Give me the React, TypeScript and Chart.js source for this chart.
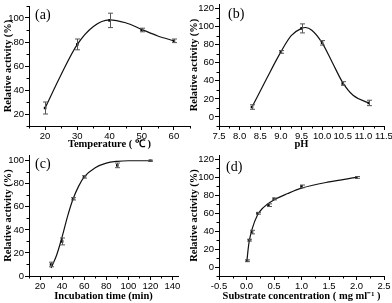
import React, { useEffect, useRef } from "react";
import { Chart, registerables } from "chart.js";

Chart.register(...registerables);

// ---------- (a) Temperature ----------
const tempX = [20, 30, 40, 50, 60];
const tempY = [25, 78, 98, 90, 81];
const tempErr = [5, 4.5, 6, 1.5, 1.5];
const tempCurveX = [20, 25, 30, 35, 40, 45, 50, 55, 60];
const tempCurveY = [25, 53, 78, 93, 98.5, 96, 90.5, 85, 81];
const tempXTicks = [20, 30, 40, 50, 60];
const tempYTicks = [20, 40, 60, 80, 100];

// ---------- (b) pH ----------
const phX = [8.3, 9.0, 9.5, 10.0, 10.5, 11.13];
const phY = [11, 72, 98, 82, 37, 15.5];
const phErr = [2.5, 1.5, 5, 2.5, 2, 3];
const phCurveX = [8.3, 8.65, 9.0, 9.25, 9.5, 9.6, 9.75, 10.0, 10.25, 10.5, 10.75, 11.13];
const phCurveY = [11, 42, 72, 90, 98, 99, 96, 82, 60, 38, 24, 15.5];
const phXTicks = [7.5, 8, 8.5, 9, 9.5, 10, 10.5, 11, 11.5];
const phYTicks = [0, 20, 40, 60, 80, 100, 120];

// ---------- (c) Incubation time ----------
const timeX = [30, 40, 50, 60, 90, 120];
const timeY = [10, 30, 67, 86, 96, 100];
const timeErr = [2, 3, 1, 1, 2, 0.5];
const timeCurveX = [30, 35, 40, 45, 50, 55, 60, 70, 80, 90, 100, 120];
const timeCurveY = [7, 18, 34, 52, 67, 78, 86, 94, 98, 99.5, 100, 100];
const timeXTicks = [20, 40, 60, 80, 100, 120, 140];
const timeYTicks = [0, 20, 40, 60, 80, 100];

// ---------- (d) Substrate concentration ----------
const subX = [0.01, 0.05, 0.1, 0.2, 0.4, 0.5, 1.0, 2.0];
const subY = [7, 30, 39, 60, 69, 76, 90, 100];
const subErr = [1, 1, 2, 1, 1.5, 1, 1.5, 1];
const subCurveX = [0.01, 0.03, 0.05, 0.1, 0.2, 0.3, 0.5, 0.75, 1.0, 1.5, 2.0];
const subCurveY = [8, 20, 29, 42, 58, 66, 75, 82, 88, 95, 100];
const subXTicks = [-0.5, 0, 0.5, 1, 1.5, 2, 2.5];
const subYTicks = [0, 20, 40, 60, 80, 100, 120];

const yTitle = "Relative activity (%)";

type Box = { left: number; top: number; right: number; bottom: number };
type PanelCfg = {
  x: number; y: number; w: number; h: number; box: Box;
  letter: string; letterX: number; letterY: number;
  xTitle: string;
  xMin: number; xMax: number; xTicks: number[]; xMinor: number; xDec: number;
  yMin: number; yMax: number; yTicks: number[]; yMinor: number;
  px: number[]; py: number[]; pe: number[];
  cx: number[]; cy: number[];
};

const SERIF = "'Liberation Serif', 'Times New Roman', serif";
const SANS = "'Liberation Sans', Arial, sans-serif";

const panels: PanelCfg[] = [
  {
    x: 0, y: 0, w: 196, h: 151, box: { left: 29, top: 6, right: 190, bottom: 126 },
    letter: "(a)", letterX: 35, letterY: 15, xTitle: "Temperature ( \u2103 )",
    xMin: 15, xMax: 65, xTicks: tempXTicks, xMinor: 5, xDec: 0,
    yMin: 10, yMax: 110, yTicks: tempYTicks, yMinor: 10,
    px: tempX, py: tempY, pe: tempErr, cx: tempCurveX, cy: tempCurveY,
  },
  {
    x: 186, y: 0, w: 206, h: 151, box: { left: 33, top: 3, right: 198, bottom: 126 },
    letter: "(b)", letterX: 42, letterY: 14, xTitle: "pH",
    xMin: 7.5, xMax: 11.5, xTicks: phXTicks, xMinor: 0.25, xDec: 1,
    yMin: -10, yMax: 125, yTicks: phYTicks, yMinor: 10,
    px: phX, py: phY, pe: phErr, cx: phCurveX, cy: phCurveY,
  },
  {
    x: 0, y: 151, w: 196, h: 152, box: { left: 29, top: 4, right: 178, bottom: 125 },
    letter: "(c)", letterX: 35, letterY: 13, xTitle: "Incubation time (min)",
    xMin: 10, xMax: 145, xTicks: timeXTicks, xMinor: 10, xDec: 0,
    yMin: 0, yMax: 105, yTicks: timeYTicks, yMinor: 10,
    px: timeX, py: timeY, pe: timeErr, cx: timeCurveX, cy: timeCurveY,
  },
  {
    x: 186, y: 151, w: 206, h: 152, box: { left: 33, top: 4, right: 198, bottom: 125 },
    letter: "(d)", letterX: 40, letterY: 16, xTitle: "Substrate concentration ( mg ml\u207B\u00B9 )",
    xMin: -0.5, xMax: 2.5, xTicks: subXTicks, xMinor: 0.25, xDec: 1,
    yMin: -10, yMax: 125, yTicks: subYTicks, yMinor: 10,
    px: subX, py: subY, pe: subErr, cx: subCurveX, cy: subCurveY,
  },
];

function PanelChart({ cfg }: { cfg: PanelCfg }) {
  const ref = useRef<HTMLCanvasElement>(null);
  useEffect(() => {
    const canvas = ref.current!;
    const { box, w, h } = cfg;

    const extras = {
      id: "extras" + cfg.letter,
      afterDatasetsDraw(chart: any) {
        const ctx = chart.ctx as CanvasRenderingContext2D;
        const xs = chart.scales.x;
        const ys = chart.scales.y;
        const area = chart.chartArea;
        ctx.save();
        // error bars
        ctx.strokeStyle = "#555";
        ctx.lineWidth = 1;
        cfg.px.forEach((xv, i) => {
          const e = cfg.pe[i];
          if (!e) return;
          const xp = Math.round(xs.getPixelForValue(xv)) + 0.5;
          const y1 = ys.getPixelForValue(cfg.py[i] + e);
          const y2 = ys.getPixelForValue(cfg.py[i] - e);
          ctx.beginPath();
          ctx.moveTo(xp, y1); ctx.lineTo(xp, y2);
          ctx.moveTo(xp - 2.5, y1); ctx.lineTo(xp + 2.5, y1);
          ctx.moveTo(xp - 2.5, y2); ctx.lineTo(xp + 2.5, y2);
          ctx.stroke();
        });
        // minor ticks
        ctx.strokeStyle = "#000";
        const isMajor = (v: number, majors: number[], step: number) =>
          majors.some((m) => Math.abs(m - v) < step / 100);
        const sx = Math.ceil(cfg.xMin / cfg.xMinor - 1e-9);
        const ex = Math.floor(cfg.xMax / cfg.xMinor + 1e-9);
        for (let i = sx; i <= ex; i++) {
          const v = i * cfg.xMinor;
          if (isMajor(v, cfg.xTicks, cfg.xMinor)) continue;
          const p = Math.round(xs.getPixelForValue(v)) + 0.5;
          ctx.beginPath();
          ctx.moveTo(p, area.bottom);
          ctx.lineTo(p, area.bottom + 2.5);
          ctx.stroke();
        }
        const sy = Math.ceil(cfg.yMin / cfg.yMinor - 1e-9);
        const ey = Math.floor(cfg.yMax / cfg.yMinor + 1e-9);
        for (let i = sy; i <= ey; i++) {
          const v = i * cfg.yMinor;
          if (isMajor(v, cfg.yTicks, cfg.yMinor)) continue;
          const p = Math.round(ys.getPixelForValue(v)) + 0.5;
          ctx.beginPath();
          ctx.moveTo(area.left, p);
          ctx.lineTo(area.left - 2.5, p);
          ctx.stroke();
        }
        // panel letter
        ctx.fillStyle = "#000";
        ctx.font = "14px " + SERIF;
        ctx.textAlign = "left";
        ctx.textBaseline = "middle";
        ctx.fillText(cfg.letter, cfg.letterX, cfg.letterY);
        ctx.restore();
      },
    };

    const chart = new Chart(canvas, {
      type: "scatter",
      data: {
        datasets: [
          {
            data: cfg.cx.map((x, i) => ({ x, y: cfg.cy[i] })),
            showLine: true,
            borderColor: "#111",
            borderWidth: 1.2,
            pointRadius: 0,
            cubicInterpolationMode: "monotone",
            fill: false,
          } as any,
          {
            data: cfg.px.map((x, i) => ({ x, y: cfg.py[i] })),
            pointStyle: "rect",
            pointRadius: 1.8,
            backgroundColor: "#000",
            borderColor: "#000",
            borderWidth: 0,
          } as any,
        ],
      },
      options: {
        responsive: false,
        maintainAspectRatio: false,
        animation: false,
        devicePixelRatio: 1,
        layout: { padding: { top: box.top, right: w - box.right, left: 0, bottom: 0 } },
        plugins: { legend: { display: false }, tooltip: { enabled: false } },
        scales: {
          x: {
            type: "linear",
            min: cfg.xMin,
            max: cfg.xMax,
            afterBuildTicks: (s: any) => {
              s.ticks = cfg.xTicks.map((v) => ({ value: v }));
            },
            afterFit: (s: any) => {
              s.height = h - box.bottom;
              s.paddingLeft = 0;
              s.paddingRight = 0;
            },
            ticks: {
              autoSkip: false,
              maxRotation: 0,
              padding: 1,
              color: "#000",
              font: { family: SANS, size: 9.5 },
              callback: (v: any) => Number(v).toFixed(cfg.xDec),
            },
            grid: {
              display: true,
              drawOnChartArea: false,
              drawTicks: true,
              tickLength: 4,
              tickColor: "#000",
              tickWidth: 1,
            },
            border: { display: true, color: "#000", width: 1 },
            title: {
              display: true,
              text: cfg.xTitle,
              color: "#000",
              font: { family: SERIF, size: 10.5, weight: "bold" },
              padding: { top: 0, bottom: 0 },
            },
          },
          y: {
            type: "linear",
            min: cfg.yMin,
            max: cfg.yMax,
            afterBuildTicks: (s: any) => {
              s.ticks = cfg.yTicks.map((v) => ({ value: v }));
            },
            afterFit: (s: any) => {
              s.width = box.left;
              s.paddingTop = 0;
              s.paddingBottom = 0;
            },
            ticks: {
              autoSkip: false,
              padding: 1,
              color: "#000",
              font: { family: SANS, size: 9.5 },
              callback: (v: any) => String(v),
            },
            grid: {
              display: true,
              drawOnChartArea: false,
              drawTicks: true,
              tickLength: 4,
              tickColor: "#000",
              tickWidth: 1,
            },
            border: { display: true, color: "#000", width: 1 },
            title: {
              display: true,
              text: yTitle,
              color: "#000",
              font: { family: SERIF, size: 10.5, weight: "bold" },
              padding: { top: 1.5, bottom: 0 },
            },
          },
        },
      } as any,
      plugins: [extras],
    });
    return () => chart.destroy();
  }, [cfg]);
  return (
    <canvas
      ref={ref}
      width={cfg.w}
      height={cfg.h}
      style={{ position: "absolute", left: cfg.x, top: cfg.y, width: cfg.w, height: cfg.h }}
    />
  );
}

export default function App() {
  useEffect(() => {
    document.body.style.margin = "0";
    document.body.style.background = "#fff";
  }, []);
  return (
    <div style={{ position: "relative", width: 392, height: 303, background: "#fff", overflow: "hidden" }}>
      {panels.map((p) => (
        <PanelChart key={p.letter} cfg={p} />
      ))}
    </div>
  );
}
